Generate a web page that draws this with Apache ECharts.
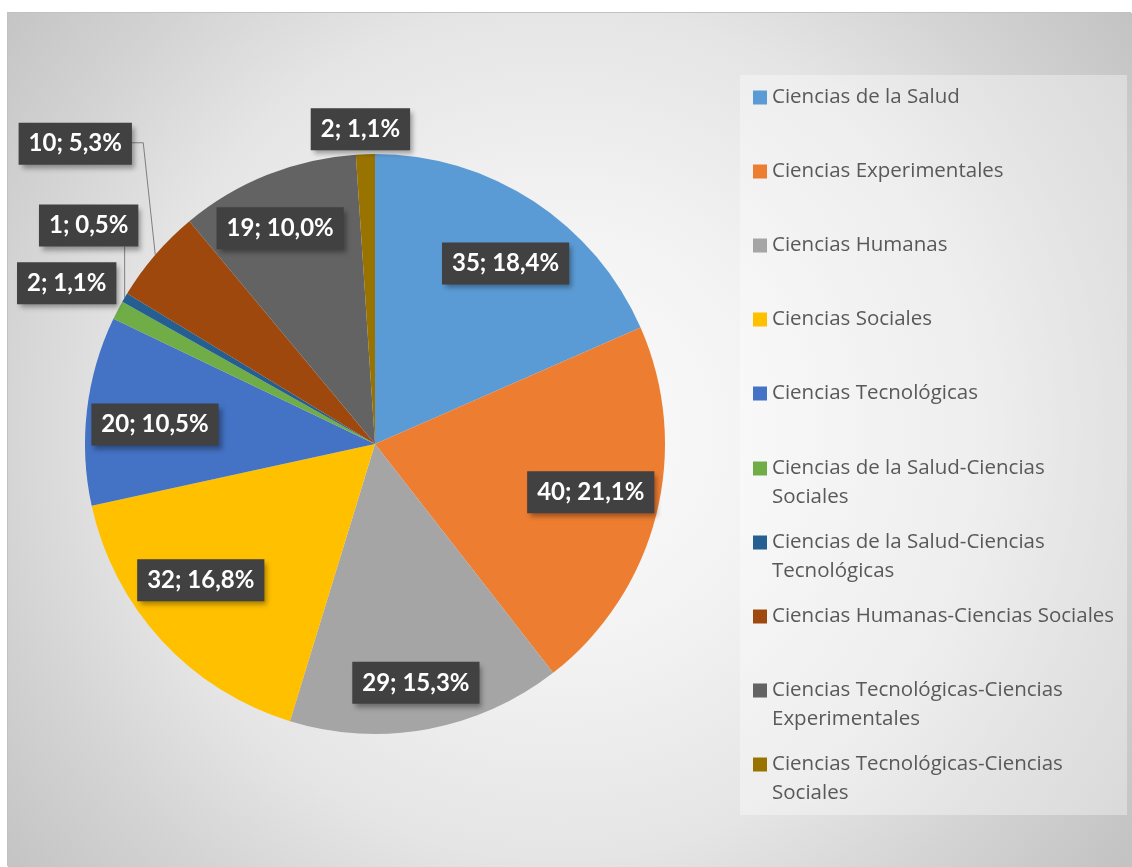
<!DOCTYPE html>
<html>
<head>
<meta charset="utf-8">
<script src="https://cdn.jsdelivr.net/npm/echarts@6/dist/echarts.min.js"></script>
<style>
  html, body { margin: 0; padding: 0; background: #fff; }
  #chart { position: absolute; left: 8px; top: 13px; width: 1124px; height: 854px; box-shadow: -1px -1px 0 #c2c2c2; }
</style>
</head>
<body>
<div id="chart"></div>
<script>
// datos
const categories = [
  'Ciencias de la Salud',
  'Ciencias Experimentales',
  'Ciencias Humanas',
  'Ciencias Sociales',
  'Ciencias Tecnológicas',
  'Ciencias de la Salud-Ciencias Sociales',
  'Ciencias de la Salud-Ciencias Tecnológicas',
  'Ciencias Humanas-Ciencias Sociales',
  'Ciencias Tecnológicas-Ciencias Experimentales',
  'Ciencias Tecnológicas-Ciencias Sociales'
]
const counts = [35, 40, 29, 32, 20, 2, 1, 10, 19, 2]
const colors = ['#5B9BD5', '#ED7D31', '#A5A5A5', '#FFC000', '#4472C4',
                '#70AD47', '#255E91', '#9E480E', '#636363', '#997300']

// etiquetas fuera de la tarta (desplazamiento desde el borde del sector)
const outsideOffset = { 5: [-51, -27], 6: [-36, -72], 7: [-80, -111], 9: [-5, -25] }
// ajuste fino de las etiquetas interiores
const insideNudge = [[10, 4], [2, -6], [1, 22], [-12, -13], [-1, 6], [0, 0], [0, 0], [0, 0], [-13, -11], [0, 0]]

const total = counts.reduce((s, v) => s + v, 0)
const labelText = (i) => counts[i] + '; ' + (counts[i] / total * 100).toFixed(1).replace('.', ',') + '%'
const isLong = (n) => n.length > 34

const center = [367, 431]
const R = 290
const LH = 29

const boxLabel = {
  color: '#fff',
  fontFamily: 'Lato',
  fontWeight: 'bold',
  fontSize: 24,
  lineHeight: 28,
  backgroundColor: '#414141',
  padding: [7, 10, 7, 10],
  shadowColor: 'rgba(0,0,0,0.35)',
  shadowBlur: 5,
  shadowOffsetX: 3,
  shadowOffsetY: 4,
  formatter: (p) => labelText(p.dataIndex)
}

const chart = echarts.init(document.getElementById('chart'))

// una leyenda por elemento para mantener el paso fijo entre entradas
const legends = categories.map((name, i) => ({
  orient: 'vertical',
  left: 745,
  top: Math.round(97.5 + i * 74.1 - 13 - (isLong(name) ? 1.5 * LH : LH / 2)),
  padding: 0,
  itemWidth: 14,
  itemHeight: 14,
  icon: 'rect',
  data: [name],
  // línea vacía arriba para que la primera línea quede centrada con el icono
  formatter: (n) => isLong(n) ? ' \n' + n.replace(/ (\S+)$/, '\n$1') : n,
  textStyle: {
    color: '#595959',
    fontFamily: 'Open Sans',
    fontSize: 20.5,
    lineHeight: LH
  }
}))

const option = {
  backgroundColor: {
    type: 'radial', x: 0.49, y: 0.49, r: 0.83,
    colorStops: [
      { offset: 0, color: '#fbfbfb' },
      { offset: 0.3, color: '#f3f3f3' },
      { offset: 0.6, color: '#e5e5e5' },
      { offset: 0.8, color: '#d3d3d3' },
      { offset: 1, color: '#c3c3c3' }
    ]
  },
  color: colors,
  animation: false,
  graphic: [{
    type: 'rect',
    left: 732, top: 62,
    shape: { width: 387, height: 740 },
    style: { fill: 'rgba(255,255,255,0.35)' },
    silent: true
  }],
  legend: legends,
  series: [
    {
      type: 'pie',
      center: center,
      radius: [0, R],
      startAngle: 90,
      avoidLabelOverlap: false,
      label: Object.assign({ show: false, position: 'outside' }, boxLabel),
      labelLine: { show: false, lineStyle: { color: '#7f7f7f', width: 1 } },
      labelLayout: (p) => {
        const off = outsideOffset[p.dataIndex]
        if (!off || !p.labelLinePoints) return {}
        const a = [p.labelLinePoints[0][0], p.labelLinePoints[0][1]]
        const cx = a[0] + off[0]
        const cy = a[1] + off[1]
        const w = p.labelRect.width
        const h = p.labelRect.height
        let pts = [a, a]
        if (p.dataIndex === 6) pts = [a, [a[0], cy + h / 2]]
        if (p.dataIndex === 7) pts = [a, [a[0] - 12, cy - 1], [cx + w / 2, cy - 1]]
        return { x: cx, y: cy, align: 'center', verticalAlign: 'middle', labelLinePoints: pts }
      },
      data: categories.map((name, i) => {
        const item = { name, value: counts[i] }
        if (outsideOffset[i]) {
          item.label = { show: true }
          item.labelLine = { show: true }
        }
        return item
      })
    },
    {
      // capa transparente solo para colocar las etiquetas interiores
      type: 'pie',
      center: center,
      radius: [R / 2, R],
      startAngle: 90,
      silent: true,
      avoidLabelOverlap: false,
      legendHoverLink: false,
      itemStyle: { color: 'rgba(0,0,0,0)' },
      label: Object.assign({ show: true, position: 'inside' }, boxLabel),
      labelLine: { show: false },
      labelLayout: (p) => {
        const n = insideNudge[p.dataIndex]
        return {
          x: p.labelRect.x + p.labelRect.width / 2 + n[0],
          y: p.labelRect.y + p.labelRect.height / 2 + n[1],
          align: 'center', verticalAlign: 'middle'
        }
      },
      data: categories.map((name, i) => ({
        name, value: counts[i],
        label: { show: outsideOffset[i] === undefined }
      }))
    }
  ]
}

chart.setOption(option)
window.addEventListener('resize', () => chart.resize())
</script>
</body>
</html>
